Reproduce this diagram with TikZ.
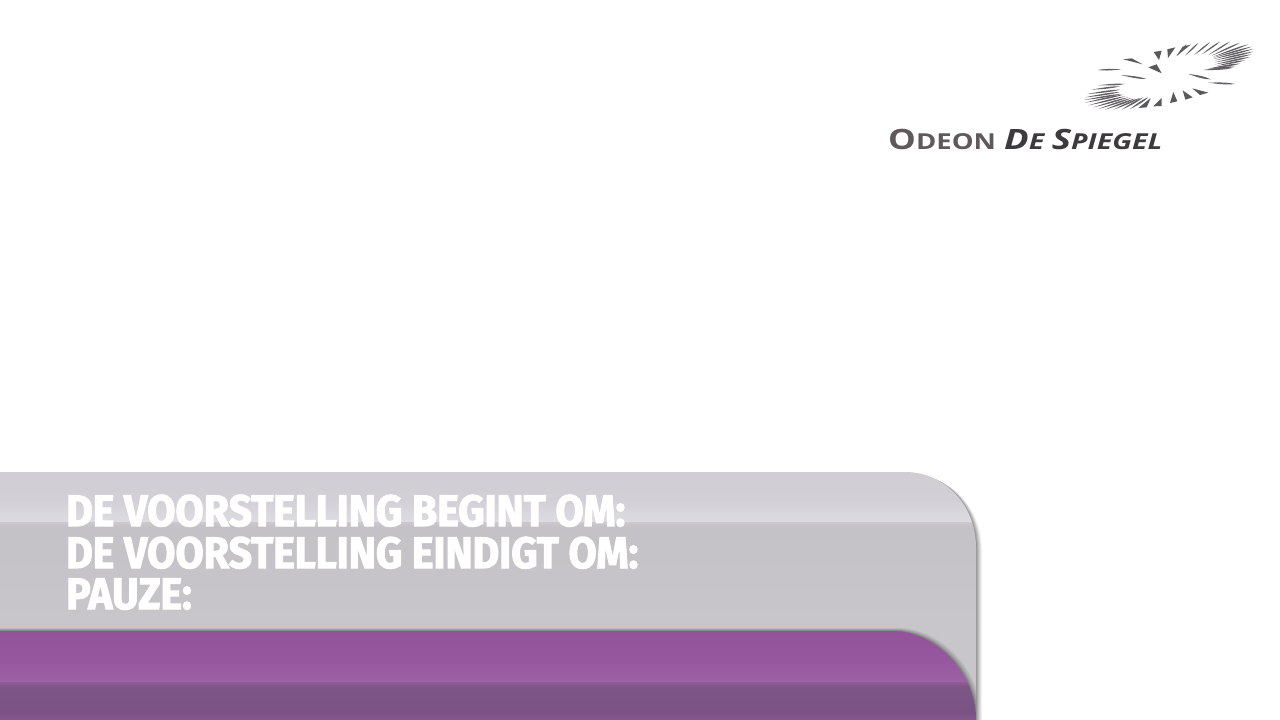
\documentclass[tikz,border=0pt]{standalone}
\usepackage{fontspec}
\setmainfont{Lato}
\newfontfamily\heavyf{Fira Sans}[BoldFeatures={FakeBold=2.4,FakeStretch=.93}]
\newfontfamily\logof{Open Sans}[BoldFeatures={FakeStretch=1.25},ItalicFeatures={FakeStretch=1.25},BoldItalicFeatures={FakeStretch=1.30},FakeStretch=1.25]
\definecolor{logoA}{HTML}{5F595B}
\definecolor{logoB}{HTML}{3C3A3E}
\tikzset{
  headline/.style={anchor=base west,inner sep=0pt,text=white,font=\heavyf\bfseries\fontsize{44}{44}\selectfont},
  wedge/.style={fill=logoB!85!white,draw=none},
  fanline/.style={fill=logoB!80!white,draw=none},
}
\newcommand{\panelpath}{(-10,472) -- (905,472) .. controls (945,472) and (976,505) .. (976,548) -- (976,730) -- (-10,730) -- cycle}
\newcommand{\purplepath}{(-10,631) -- (893,631) .. controls (935,631) and (976,672) .. (976,720) -- (976,730) -- (-10,730) -- cycle}
\newcommand{\band}[4]{\definecolor{bandtop}{HTML}{#3}\definecolor{bandbot}{HTML}{#4}\shade[top color=bandtop,bottom color=bandbot] (-10,#1) rectangle (990,#2);}
% logo coordinates in crop units: origin \ox,\oy, three units to a pixel
\newcommand{\lens}[5]{%
  \fill[fanline] ({\ox+#1/3},{\oy+#2/3}) .. controls ({\ox+(#1+#3)/6},{\oy+(#2+#4)/6-1.3*#5}) and ({\ox+(#1+3*#3)/12},{\oy+(#2+3*#4)/12-1.3*#5}) .. ({\ox+#3/3},{\oy+#4/3})
  .. controls ({\ox+(#1+3*#3)/12},{\oy+(#2+3*#4)/12+1.3*#5}) and ({\ox+(#1+#3)/6},{\oy+(#2+#4)/6+1.3*#5}) .. ({\ox+#1/3},{\oy+#2/3}) -- cycle;}
\newcommand{\tri}[6]{\fill[wedge] ({\ox+#1/3},{\oy+#2/3}) -- ({\ox+#3/3},{\oy+#4/3}) -- ({\ox+#5/3},{\oy+#6/3}) -- cycle;}
\begin{document}
\begin{tikzpicture}[x=1pt,y=-1pt]
\useasboundingbox (0,0) rectangle (1280,720);
\fill[white] (0,0) rectangle (1280,720);
% panel shadow
\foreach \s/\t/\op in {6/3/.05,5/2.5/.06,4/2/.07,3/1.5/.08,2/1/.10,1/.5/.12}{
  \fill[black,opacity=\op,shift={(\s,\t)}] \panelpath;
}
% grey panel
\begin{scope}
\clip \panelpath;
\band{471}{500}{D0CED3}{D2D0D6}
\band{500}{522}{D2D0D6}{DDDCE2}
\band{522}{527}{CBC9CE}{C4C2C6}
\band{527}{625}{C4C2C6}{C8C6CA}
\band{625}{731}{C8C6CA}{C8C6CA}
\foreach \s/\t/\op in {5/-3/.05,4/-2.4/.06,3/-1.8/.07,2/-1.2/.09,1/-.6/.12}{
  \fill[black,opacity=\op,shift={(\s,\t)}] \purplepath;
}
\clip \purplepath;
\band{630}{660}{93539A}{97579E}
\band{660}{682}{97579E}{9E62A6}
\band{682}{687}{8F5C97}{7E5587}
\band{687}{712}{7E5587}{7A5284}
\band{712}{721}{7A5284}{8A5792}
\end{scope}
% headline
\node[headline] (line1) at (66,526) {DE VOORSTELLING BEGINT OM:};
\node[headline] (line2) at (66,568) {DE VOORSTELLING EINDIGT OM:};
\node[headline] (line3) at (66,609) {PAUZE:};
% logo wordmark
\node[anchor=base west,inner sep=0pt,text=logoA,font=\logof\bfseries\fontsize{28}{28}\selectfont] (odeon) at (888,149) {O\fontsize{22}{22}\selectfont DEON};
\node[anchor=base west,inner sep=0pt,text=logoB,font=\logof\bfseries\itshape\fontsize{28}{28}\selectfont] (spiegel) at (1004,149) {D\fontsize{22}{22}\selectfont E\ \fontsize{28}{28}\selectfont S\fontsize{22}{22}\selectfont PIEGEL};
% logo emblem: central wedges and arms
\def\ox{1060}\def\oy{30}
\tri{281}{66}{305}{62}{297}{90}
\tri{322}{58}{346}{52}{324}{84}
\tri{350}{78}{368}{50}{392}{44}
\tri{265}{112}{290}{103}{305}{130}
\tri{190}{88}{215}{85}{248}{103}
\tri{397}{175}{445}{188}{420}{195}
\tri{368}{181}{398}{202}{376}{209}
\tri{340}{186}{352}{214}{330}{219}
\lens{445}{116}{525}{110}{0.8}
\lens{385}{132}{452}{148}{1.1}
\lens{445}{158}{525}{162}{0.9}
\lens{185}{118}{113}{120}{0.8}
\lens{182}{135}{260}{147}{0.9}
% logo emblem: upper fan
\def\ox{1170}\def\oy{35}
\lens{20}{62}{50}{27}{1.0}
\lens{45}{62}{85}{24}{1.0}
\lens{72}{60}{120}{22}{0.9}
\lens{95}{58}{150}{20}{0.9}
\lens{115}{60}{180}{20}{0.8}
\lens{125}{62}{210}{23}{0.8}
\lens{130}{65}{235}{28}{0.8}
\lens{130}{68}{245}{35}{0.8}
\lens{130}{72}{250}{42}{0.8}
\lens{135}{76}{250}{50}{0.8}
\lens{135}{82}{245}{58}{0.8}
\lens{135}{88}{240}{66}{0.8}
\lens{140}{92}{225}{76}{0.8}
\lens{120}{100}{210}{86}{0.9}
\lens{100}{105}{190}{98}{1.1}
% logo emblem: lower fan
\def\ox{1080}\def\oy{78}
\lens{55}{22}{135}{18}{0.8}
\lens{35}{35}{120}{25}{0.8}
\lens{22}{48}{120}{35}{0.8}
\lens{15}{58}{120}{42}{0.8}
\lens{12}{66}{125}{48}{0.8}
\lens{15}{74}{130}{50}{0.8}
\lens{25}{82}{135}{55}{0.8}
\lens{40}{88}{145}{58}{0.8}
\lens{55}{93}{155}{60}{0.8}
\lens{75}{95}{165}{62}{0.9}
\lens{100}{95}{180}{60}{0.9}
\lens{125}{95}{190}{58}{1.0}
\lens{150}{93}{205}{58}{1.1}
\tri{175}{90}{212}{60}{200}{88}
\tri{220}{85}{245}{60}{245}{84}
\end{tikzpicture}
\end{document}
